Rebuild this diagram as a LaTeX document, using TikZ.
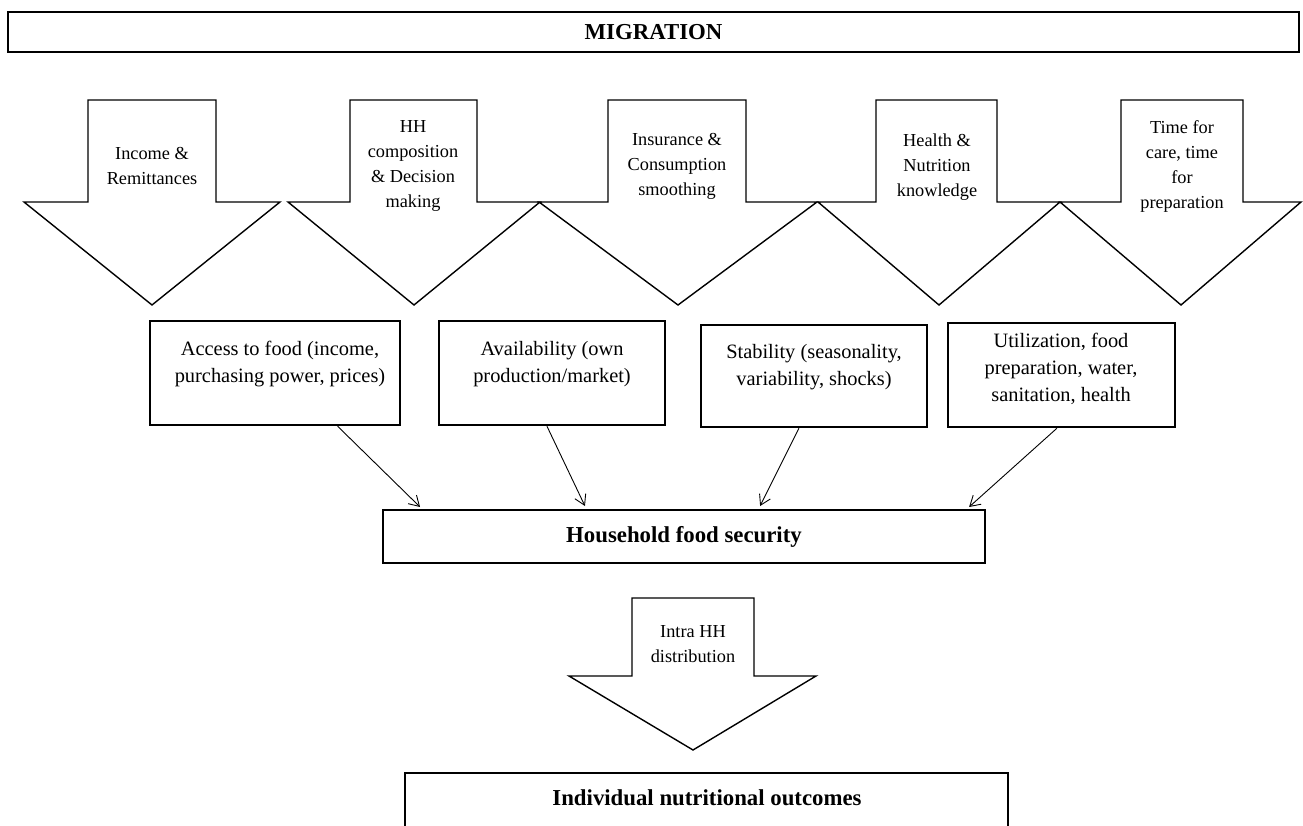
\documentclass[tikz,border=0pt]{standalone}
\usepackage{fontspec}
\setmainfont{Liberation Serif}
\usetikzlibrary{arrows.meta,calc}
\newcommand{\migarrow}[5]{% shaftL shaftR headL headR tipx
  \draw[bigarrow] (#1,100) -- (#2,100) -- (#2,202) -- (#4,202) -- (#5,305) -- (#3,202) -- (#1,202) -- cycle;}
\begin{document}
\begin{tikzpicture}[x=1pt,y=-1pt,
  bigarrow/.style={draw=black,line width=1.4pt,fill=white,line join=miter},
  arrlbl/.style={align=center,font=\fontsize{18.3}{25}\selectfont,inner sep=0pt},
  boxlbl/.style={align=center,font=\fontsize{20.4}{27}\selectfont,inner sep=0pt},
  headlbl/.style={font=\fontsize{22.8}{26}\selectfont\bfseries,inner sep=0pt},
  fbox/.style={draw=black,line width=2.5pt,fill=white,inner sep=0pt},
  conn/.style={draw=black,line width=0.9pt,-{Straight Barb[length=10pt,width=12pt,line width=0.9pt]}}]
\useasboundingbox (0,0) rectangle (1303,826);
\fill[white] (0,0) rectangle (1303,826);

% MIGRATION
\node[fbox,minimum width=1291,minimum height=40] (mig) at (653.5,32) {};
\node[headlbl] (migt) at (mig.center) {MIGRATION};

% big arrows
\migarrow{88}{216}{24}{280}{152}
\node[arrlbl] (a1) at (152,166) {Income \&\\Remittances};
\migarrow{350}{477}{288}{540}{414}
\node[arrlbl] (a2) at (413,166) {HH\\composition\\\& Decision\\making};
\migarrow{608}{746}{539}{817}{678}
\node[arrlbl] (a3) at (677,166) {Insurance \&\\Consumption\\smoothing};
\migarrow{876}{997}{818}{1060}{939}
\node[arrlbl] (a4) at (937,167) {Health \&\\Nutrition\\knowledge};
\migarrow{1121}{1243}{1060}{1301}{1181}
\node[arrlbl] (a5) at (1182,167) {Time for\\care, time\\for\\preparation};

% four boxes
\node[fbox,minimum width=250,minimum height=104] (acc) at (275,373) {};
\node[boxlbl] (acct) at (280,364) {Access to food (income,\\purchasing power, prices)};
\node[fbox,minimum width=226,minimum height=104] (ava) at (552,373) {};
\node[boxlbl] (avat) at (552,364) {Availability (own\\production/market)};
\node[fbox,minimum width=226,minimum height=102] (sta) at (814,376) {};
\node[boxlbl] (stat) at (814,367) {Stability (seasonality,\\variability, shocks)};
\node[fbox,minimum width=227,minimum height=104] (uti) at (1061.5,375) {};
\node[boxlbl] (utit) at (1061,369) {Utilization, food\\preparation, water,\\sanitation, health};

% household food security
\node[draw=black,line width=2pt,fill=white,minimum width=602,minimum height=53,headlbl] (hfs) at (684,536.5) {Household food security};

% connectors
\draw[conn] ($(acc.south west)!0.748!(acc.south east)$) -- ($(hfs.north west)!0.063!(hfs.north east)+(0,-2)$);
\draw[conn] ($(ava.south west)!0.478!(ava.south east)$) -- ($(hfs.north west)!0.336!(hfs.north east)+(0,-3)$);
\draw[conn] ($(sta.south west)!0.434!(sta.south east)$) -- ($(hfs.north west)!0.626!(hfs.north east)+(0,-3)$);
\draw[conn] ($(uti.south west)!0.48!(uti.south east)$) -- ($(hfs.north west)!0.972!(hfs.north east)+(0,-2)$);

% bottom arrow
\draw[bigarrow] (632,598) -- (754,598) -- (754,676) -- (816,676) -- (693,750) -- (569,676) -- (632,676) -- cycle;
\node[arrlbl] (intra) at (693,644) {Intra HH\\distribution};

% individual outcomes
\node[minimum width=603,minimum height=80,inner sep=0pt] (ind) at (706.5,813) {};
\draw[line width=2.5pt] (ind.south west) -- (ind.north west) -- (ind.north east) -- (ind.south east);
\node[headlbl] (indt) at (707,798) {Individual nutritional outcomes};
\end{tikzpicture}
\end{document}
